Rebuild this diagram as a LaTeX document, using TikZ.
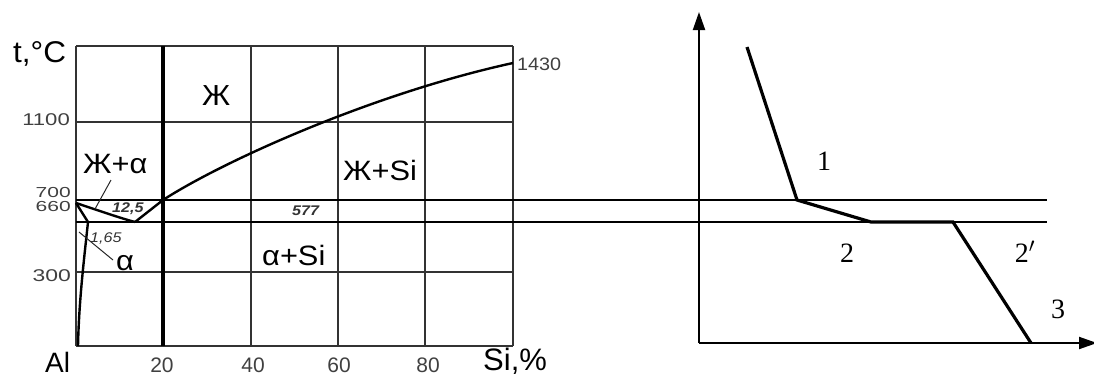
\documentclass[tikz,border=0pt]{standalone}
\usepackage{fontspec}
\setmainfont{Liberation Serif}
\newfontfamily\arialf{Liberation Sans}
\usetikzlibrary{arrows.meta}
\newcommand\fsz[1]{\fontsize{#1}{#1}\selectfont}
\begin{document}
\begin{tikzpicture}[x=1pt,y=-1pt,
  gridline/.style={line width=1.3pt, black!80},
  heavy/.style={line width=4pt},
  level/.style={line width=2.2pt},
  levelthin/.style={line width=1.3pt},
  phase/.style={line width=2.4pt, line join=round},
  leader/.style={line width=1pt, black!85},
  cool/.style={line width=3.2pt, line join=miter},
  axis/.style={line width=2pt, -{Triangle[length=18pt,width=12pt]}},
  lab/.style={inner sep=0pt, anchor=base west},
  num/.style={inner sep=0pt, text=black!75},
  serlab/.style={inner sep=0pt, anchor=base}]
\useasboundingbox (0,0) rectangle (1094,376);
% ---------- left chart: grid ----------
\foreach \x in {76,251,338,425,513} \draw[gridline] (\x,46) -- (\x,346);
\foreach \y in {46,122,272,346} \draw[gridline] (76,\y) -- (513,\y);
\draw[heavy] (163,46) -- (163,346);
% levels extended to the right chart
\coordinate (L1a) at (76,200); \coordinate (L1b) at (513,200); \coordinate (L1c) at (1047,200);
\coordinate (L2a) at (76,222); \coordinate (L2b) at (513,222); \coordinate (L2c) at (1047,222);
\draw[level] (L1a) -- (L1b); \draw[levelthin] (L1b) -- (L1c);
\draw[level] (L2a) -- (L2b); \draw[levelthin] (L2b) -- (L2c);
% phase lines
\coordinate (Al) at (76,203);
\coordinate (E) at (135,222);
\coordinate (S) at (88,222);
\coordinate (A20) at (163,200);
\coordinate (Si) at (513,63);
\draw[phase] (Al) .. controls (100,211) and (120,218) .. (E);
\draw[phase] (E) -- (A20) .. controls (225,160) and (375,93) .. (Si);
\draw[phase] (Al) -- (S) .. controls (84,260) and (79,300) .. (78,346);
% leaders
\coordinate (lk1) at (111,180); \coordinate (lk2) at (95,209);
\draw[leader] (lk1) -- (lk2);
\coordinate (la1) at (113,260); \coordinate (la2) at (79,232);
\draw[leader] (la1) -- (la2);
% ---------- left chart: texts ----------
\node[lab] (tC) at (13,62) {\arialf\fsz{30}\scalebox{1.05}[1]{t,°C}};
\node[num, anchor=base east] (y1100) at (70,125) {\arialf\fsz{17}\scalebox{1.3}[1]{1100}};
\node[num, anchor=base east] (y700) at (71,197) {\arialf\fsz{14.5}\scalebox{1.45}[1]{700}};
\node[num, anchor=base east] (y660) at (71,211) {\arialf\fsz{14.5}\scalebox{1.45}[1]{660}};
\node[num, anchor=base east] (y300) at (71,281) {\arialf\fsz{17}\scalebox{1.35}[1]{300}};
\node[num, anchor=base west] (y1430) at (517,70) {\arialf\fsz{18}\scalebox{1.1}[1]{1430}};
\node[lab] (zh) at (202,105) {\arialf\fsz{29}\scalebox{1.05}[1]{Ж}};
\node[lab] (zha) at (83,173) {\arialf\fsz{28}\scalebox{1.1}[1]{Ж+α}};
\node[lab] (zhsi) at (343,180) {\arialf\fsz{28}\scalebox{1.1}[1]{Ж+Si}};
\node[lab] (asi) at (262,265) {\arialf\fsz{28}\scalebox{1.1}[1]{α+Si}};
\node[lab] (al) at (116,270) {\arialf\fsz{28}\scalebox{1.1}[1]{α}};
\node[lab, text=black!80] (e125) at (112,212) {\arialf\fsz{14}\bfseries\itshape\scalebox{1.15}[1]{12,5}};
\node[lab, text=black!80] (e165) at (90,242) {\arialf\fsz{14}\itshape\scalebox{1.15}[1]{1,65}};
\node[lab, text=black!80] (e577) at (292,215) {\arialf\fsz{14}\bfseries\itshape\scalebox{1.15}[1]{577}};
\node[lab] (xAl) at (45,372) {\arialf\fsz{28}Al};
\node[num, anchor=base] (x20) at (162,372) {\arialf\fsz{21}20};
\node[num, anchor=base] (x40) at (253,372) {\arialf\fsz{21}40};
\node[num, anchor=base] (x60) at (339,372) {\arialf\fsz{21}60};
\node[num, anchor=base] (x80) at (428,372) {\arialf\fsz{21}80};
\node[lab] (xSi) at (483,370) {\arialf\fsz{31}Si,\%};
% ---------- right chart ----------
\coordinate (O) at (699,343);
\coordinate (Ytop) at (699,12);
\coordinate (Xend) at (1097,343);
\draw[axis] (O) -- (Ytop);
\draw[axis] (O) -- (Xend);
\coordinate (c0) at (747,47);
\coordinate (c1) at (797,200);
\coordinate (c2) at (871,222);
\coordinate (c3) at (953,222);
\coordinate (c4) at (1031,343);
\draw[cool] (c0) -- (c1) -- (c2) -- (c3) -- (c4);
\node[serlab] (n1) at (824,170) {\fsz{28}1};
\node[serlab] (n2) at (847,262) {\fsz{28}2};
\node[serlab] (n2p) at (1025,262) {\fsz{28}2$'$};
\node[serlab] (n3) at (1058,318) {\fsz{28}3};
\end{tikzpicture}
\end{document}
